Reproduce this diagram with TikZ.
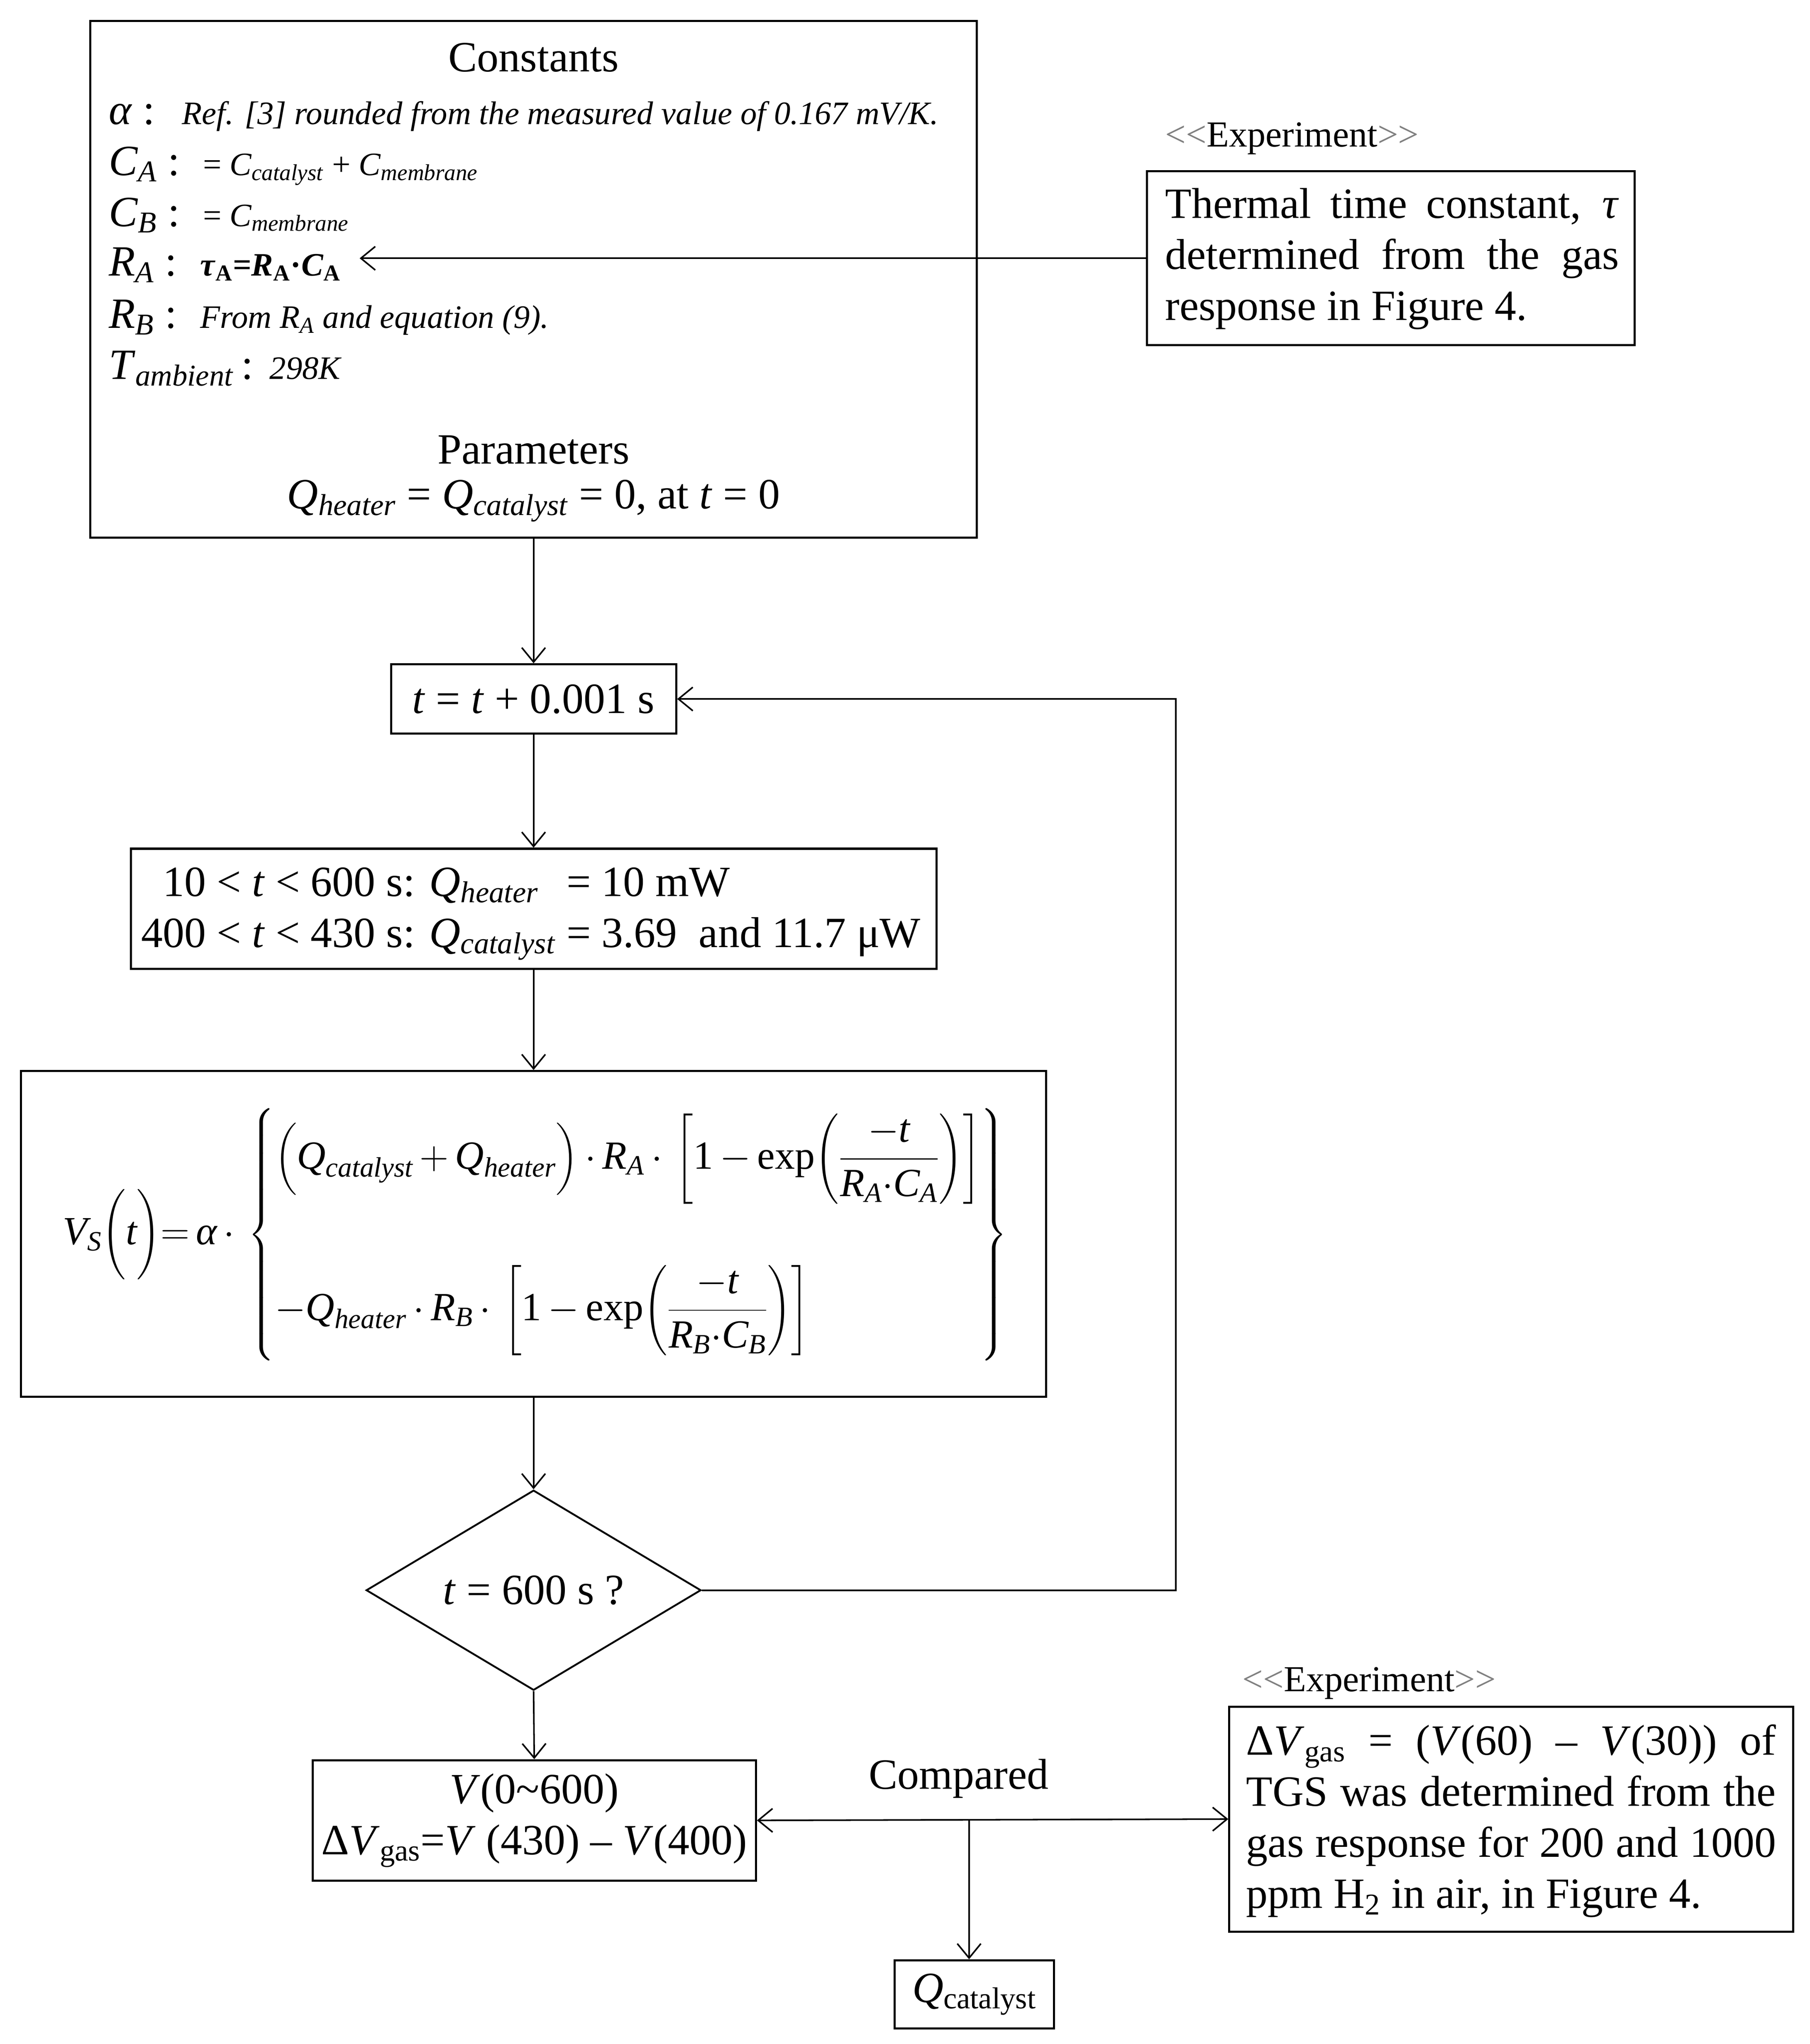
\RequirePackage{fix-cm}
\documentclass[tikz,border=0pt]{standalone}
\usepackage{amsmath}
\usepackage{fontspec}
\setmainfont{Liberation Serif}
\usetikzlibrary{arrows.meta,shapes.geometric}
\newcommand\mi[1]{\textit{#1}}
\newcommand\dsc{\fontsize{25}{30}\selectfont}
\newcommand\expl{{\color{gray}<\kern0pt<}Experiment{\color{gray}>\kern0pt>}}
\newcommand\cd{\,{\cdot}\,}
\tikzset{
 box/.style={draw, line width=1.6pt, inner sep=0pt},
 arr/.style={line width=1.2pt, -{Straight Barb[length=11pt,width=18pt,line width=1.2pt]}},
 biarr/.style={line width=1.2pt, {Straight Barb[length=11pt,width=18pt,line width=1.2pt]}-{Straight Barb[length=11pt,width=18pt,line width=1.2pt]}},
 cline/.style={anchor=base west, inner sep=0pt},
}
\begin{document}
\begin{tikzpicture}[x=1pt,y=-1pt, font=\fontsize{33}{39}\selectfont]
\useasboundingbox (0,0) rectangle (1384,1563);
\fill[white] (0,0) rectangle (1384,1563);

% Constants box
\node[box, minimum width=678pt, minimum height=395pt] (cst) at (408,213.5) {};
\node (cstt) at (408,44) {Constants};
\node[cline] (la) at (83,95) {\makebox[56pt][l]{\mi{α} :}{\dsc\mi{Ref. [3] rounded from the measured value of 0.167 mV/K.}}};
\node[cline] (lca) at (83,134) {\makebox[72pt][l]{\mi{C}\textsubscript{\mi{A}} :}{\dsc = \mi{C}\textsubscript{\mi{catalyst}} + \mi{C}\textsubscript{\mi{membrane}}}};
\node[cline] (lcb) at (83,173) {\makebox[72pt][l]{\mi{C}\textsubscript{\mi{B}} :}{\dsc = \mi{C}\textsubscript{\mi{membrane}}}};
\node[cline] (lra) at (83,211) {\makebox[70pt][l]{\mi{R}\textsubscript{\mi{A}} :}{\dsc\bfseries\mi{τ}\textsubscript{A}=\mi{R}\textsubscript{A}·\mi{C}\textsubscript{A}}};
\node[cline] (lrb) at (83,251) {\makebox[70pt][l]{\mi{R}\textsubscript{\mi{B}} :}{\dsc\mi{From R\textsubscript{A} and equation (9).}}};
\node[cline] (lt) at (83,290) {\makebox[123pt][l]{\mi{T}\textsubscript{\mi{ambient}}\,:}{\dsc\mi{298K}}};
\node (par) at (408,344) {Parameters};
\node (par2) at (408,383) {\mi{Q}\textsubscript{\mi{heater}} = \mi{Q}\textsubscript{\mi{catalyst}} = 0, at \mi{t} = 0};

% Experiment 1
\node (x1l) at (988,106) {\fontsize{28}{33}\selectfont\expl};
\node[box, minimum width=373pt, minimum height=133pt] (e1) at (1063.5,197.5) {};
\node[align=left, inner sep=0pt] (e1t) at (1064.5,198) {\makebox[347pt][s]{Thermal time constant, \mi{τ}}\\\makebox[347pt][s]{determined from the gas}\\\makebox[347pt][l]{response in Figure 4.}};
\coordinate (raT) at (275,197.5);
\draw[arr] (e1.west) -- (raT);

% t box
\node[box, minimum width=218pt, minimum height=53pt] (tb) at (408,534.5) {\mi{t} = \mi{t} + 0.001 s};
\draw[arr] (cst.south) -- (tb.north);

% Q box
\node[box, minimum width=616pt, minimum height=92pt] (qb) at (408,695) {};
\node[inner sep=0pt] (qbt) at (406,697) {\begin{tabular}{@{}r@{ }l@{}l@{}}10 < \mi{t} < 600 s: & \mi{Q}\textsubscript{\mi{heater}} & \ = 10 mW\\400 < \mi{t} < 430 s: & \mi{Q}\textsubscript{\mi{catalyst}} & \ = 3.69 \ and 11.7 μW\end{tabular}};
\draw[arr] (tb.south) -- (qb.north);

% Equation box
\node[box, minimum width=784pt, minimum height=249pt] (eb) at (408,943.5) {};
\node[anchor=west, inner sep=0pt] (eq) at (48,944) {\resizebox{722pt}{!}{$\displaystyle \mi{V}_{\mi{S}}\biggl(\mi{t}\biggr){=}\,\mi{α}\cd\left\{\begin{array}{@{}l@{}}
\Bigl(\mi{Q}_{\mi{catalyst}}\,{+}\,\mi{Q}_{\mi{heater}}\Bigr)\cd\mi{R}_{\mi{A}}\cd\left[\textup{1}\,{-}\,\textup{exp}\!\left(\dfrac{{-}\mi{t}}{\mi{R}_{\mi{A}}{\cdot}\mi{C}_{\mi{A}}}\right)\right]\\[68pt]
{-}\mi{Q}_{\mi{heater}}\cd\mi{R}_{\mi{B}}\cd\left[\textup{1}\,{-}\,\textup{exp}\!\left(\dfrac{{-}\mi{t}}{\mi{R}_{\mi{B}}{\cdot}\mi{C}_{\mi{B}}}\right)\right]
\end{array}\right\}$}};
\draw[arr] (qb.south) -- (eb.north);

% Diamond
\node[diamond, draw, line width=1.4pt, minimum width=256pt, minimum height=153pt, aspect=1.67, inner sep=0pt] (dia) at (408,1216) {\mi{t} = 600 s ?};
\draw[arr] (eb.south) -- (dia.north);
\coordinate (loopc) at (899,1216);
\draw[arr] (dia.east) -- (loopc) |- (tb.east);

% V box
\node[box, minimum width=339pt, minimum height=92pt, align=center] (vb) at (408.5,1392) {\mi{V}(0\textasciitilde600)\\Δ\mi{V}\textsubscript{gas}=\mi{V} (430) – \mi{V}(400)};
\draw[arr] (dia.south) -- (vb.north);

% Experiment 2
\node (x2l) at (1047,1287) {\fontsize{28}{33}\selectfont\expl};
\node[box, minimum width=431pt, minimum height=172pt] (e2) at (1155.5,1391) {};
\node[align=left, inner sep=0pt] (e2t) at (1155.5,1392.5) {\makebox[405pt][s]{Δ\mi{V}\textsubscript{gas} = (\mi{V}(60) – \mi{V}(30)) of}\\\makebox[405pt][s]{TGS was determined from the}\\\makebox[405pt][s]{gas response for 200 and 1000}\\\makebox[405pt][l]{ppm H\textsubscript{2} in air, in Figure 4.}};

% Compared
\node (cmpl) at (733,1360) {Compared};
\draw[biarr] (vb.east) -- (e2.west);
\coordinate (cmp) at (741,1392);
\node[box, minimum width=122pt, minimum height=52pt] (qc) at (745,1525) {\mi{Q}\textsubscript{catalyst}};
\draw[arr] (cmp) -- (cmp |- qc.north);
\end{tikzpicture}
\end{document}
